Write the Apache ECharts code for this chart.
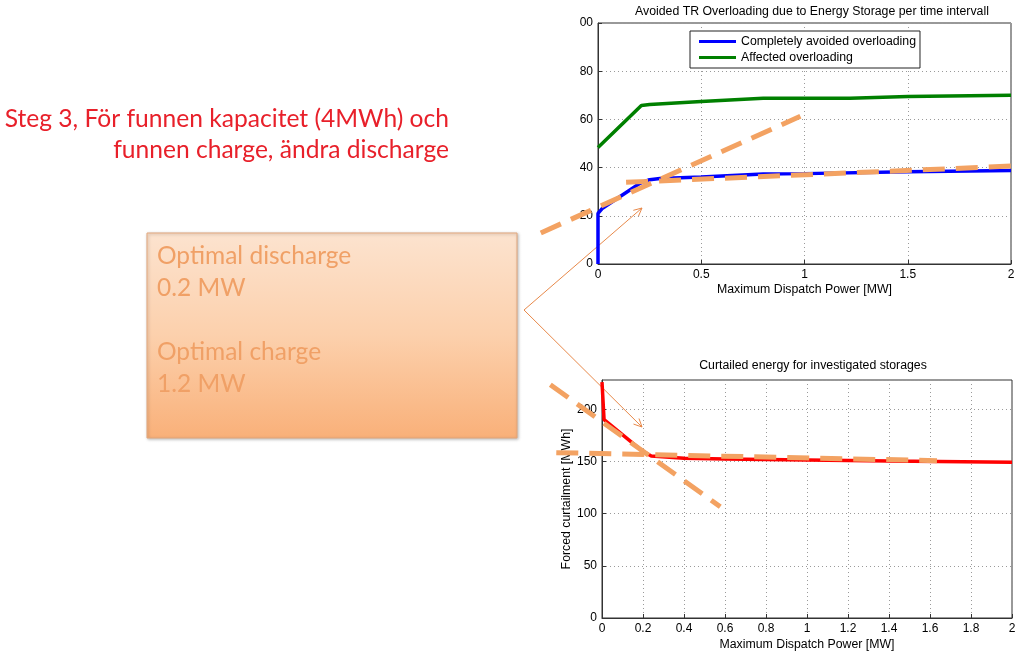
<!DOCTYPE html>
<html>
<head>
<meta charset="utf-8">
<script src="https://cdn.jsdelivr.net/npm/echarts@6/dist/echarts.min.js"></script>
<style>
html,body{margin:0;padding:0;background:#fff;}
#c{width:1024px;height:654px;}
</style>
</head>
<body>
<div id="c"></div>
<script>
// ---- data ----
const topXTicks = [0, 0.5, 1, 1.5, 2];
const topYTicks = [0, 20, 40, 60, 80, 100];
const avoidedName = 'Completely avoided overloading';
const affectedName = 'Affected overloading';
const avoidedPoints = [[0,0],[0,21],[0.02,23],[0.2,33.3],[0.25,35],[0.3,35.5],[0.5,36.1],[0.8,37.3],[1,37.5],[1.5,38.3],[2,38.8]];
const affectedPoints = [[0,48.3],[0.21,65.8],[0.25,66.2],[0.5,67.4],[0.8,68.8],[1.22,68.8],[1.5,69.5],[2,70]];
const topTrend1 = [[-0.277,12.9],[0.98,61.3]];
const topTrend2 = [[0.136,33.9],[2.05,40.8]];

const botXTicks = [0,0.2,0.4,0.6,0.8,1,1.2,1.4,1.6,1.8,2];
const botYTicks = [0,50,100,150,200];
const botYMax = 228;
const curtailedPoints = [[0,226],[0.01,190],[0.19,161],[0.24,155.3],[0.4,153],[0.6,152.2],[1,151.4],[1.4,150.5],[2,149.3]];
const botTrend1 = [[-0.252,223.5],[0.577,106.6]];
const botTrend2 = [[-0.223,158.4],[1.634,150.7]];

const titleLines = ['Steg 3, För funnen kapacitet (4MWh) och', 'funnen charge, ändra discharge'];
const boxLines = ['Optimal discharge', '0.2 MW', '', 'Optimal charge', '1.2 MW'];

// ---- layout ----
const G1 = {left:598, top:23, width:413, height:241};
const G2 = {left:602, top:380, width:410, height:238};
// overlay grids sharing the same scale but wider, so annotation dashes can run past the plot box
const O1L = 530, O1R = 1024, O2L = 540, O2R = 1024;

const chart = echarts.init(document.getElementById('c'));
const FONT = 'Liberation Sans, Arial, sans-serif';
const ORANGE = '#F3A262';

function axisCommon(){
  return {
    axisLine:{show:true,lineStyle:{color:'#333',width:1}},
    axisTick:{show:true,inside:true,length:4,lineStyle:{color:'#333'}},
    axisLabel:{color:'#000',fontSize:12,fontFamily:FONT,margin:5},
    splitLine:{show:true,lineStyle:{color:'#9a9a9a',type:[1,3],width:1}}
  };
}
function arrow(x1,y1,x2,y2){
  const a = Math.atan2(y2-y1,x2-x1), L=9, w=0.45;
  return [
    {type:'line',shape:{x1:x1,y1:y1,x2:x2,y2:y2},style:{stroke:'#E8894A',lineWidth:1}},
    {type:'polyline',shape:{points:[[x2-L*Math.cos(a-w),y2-L*Math.sin(a-w)],[x2,y2],[x2-L*Math.cos(a+w),y2-L*Math.sin(a+w)]]},style:{stroke:'#E8894A',lineWidth:1,fill:null}}
  ];
}

const graphics = [];
const TFONT = '24.6px Lato, "Open Sans", sans-serif';
graphics.push({type:'text',style:{text:titleLines[0],x:449,y:119,align:'right',verticalAlign:'middle',fill:'#E8202A',font:TFONT}});
graphics.push({type:'text',style:{text:titleLines[1],x:449,y:150,align:'right',verticalAlign:'middle',fill:'#E8202A',font:TFONT}});
graphics.push({type:'rect',shape:{x:147,y:233,width:370,height:205},style:{
  fill:new echarts.graphic.LinearGradient(0,0,0,1,[{offset:0,color:'#FCE3CF'},{offset:0.5,color:'#FCD0AC'},{offset:1,color:'#F9B079'}]),
  stroke:'#E3A77C',lineWidth:1,shadowBlur:3,shadowColor:'rgba(0,0,0,0.25)',shadowOffsetX:1,shadowOffsetY:1}});
const boxY = [256, 288, 320, 352, 384];
boxLines.forEach((t,i)=>{ if(t) graphics.push({type:'text',style:{text:t,x:157,y:boxY[i],verticalAlign:'middle',fill:'#F0A066',font:'24.5px Lato, "Open Sans", sans-serif'}}); });
arrow(524,310,642,208).forEach(g=>graphics.push(g));
arrow(524,310,642,427).forEach(g=>graphics.push(g));

function trend(idx,data){
  return {type:'line',xAxisIndex:idx,yAxisIndex:idx,data:data,symbol:'none',clip:false,silent:true,z:5,
    lineStyle:{color:ORANGE,width:5,type:[22,11],cap:'butt'}};
}
function hiddenAxis(gi,min,max){ return {type:'value',gridIndex:gi,min:min,max:max,show:false,splitLine:{show:false}}; }

const x1Min = topXTicks[0], x1Max = topXTicks[topXTicks.length-1];
const px1 = G1.width/(x1Max-x1Min);
const x2Min = botXTicks[0], x2Max = botXTicks[botXTicks.length-1];
const px2 = G2.width/(x2Max-x2Min);

chart.setOption({
  animation:false,
  backgroundColor:'#fff',
  title:[
    {text:'Avoided TR Overloading due to Energy Storage per time intervall',left:807,top:1,textAlign:'center',
      textStyle:{fontSize:12.3,fontWeight:'normal',color:'#000',fontFamily:FONT}},
    {text:'Curtailed energy for investigated storages',left:808,top:355,textAlign:'center',
      textStyle:{fontSize:12.3,fontWeight:'normal',color:'#000',fontFamily:FONT}}
  ],
  legend:{
    data:[avoidedName,affectedName],left:690,top:31,orient:'vertical',icon:'rect',
    backgroundColor:'#fff',borderColor:'#222',borderWidth:1,padding:[4,4,4,9],itemGap:3,
    itemWidth:37,itemHeight:3,textStyle:{fontSize:12.3,color:'#000',fontFamily:FONT,lineHeight:13},
    selectedMode:false
  },
  grid:[
    Object.assign({show:true,borderColor:'#333',borderWidth:1,backgroundColor:'#fff'},G1),
    Object.assign({show:true,borderColor:'#333',borderWidth:1,backgroundColor:'#fff'},G2),
    {left:O1L,top:G1.top,width:O1R-O1L,height:G1.height,show:false},
    {left:O2L,top:G2.top,width:O2R-O2L,height:G2.height,show:false}
  ],
  xAxis:[
    Object.assign(axisCommon(),{type:'value',gridIndex:0,min:x1Min,max:x1Max,interval:0.5,
      name:'Maximum Dispatch Power [MW]',nameLocation:'middle',nameGap:20,nameTextStyle:{fontSize:12.3,color:'#000',fontFamily:FONT}}),
    Object.assign(axisCommon(),{type:'value',gridIndex:1,min:x2Min,max:x2Max,interval:0.2,
      name:'Maximum Dispatch Power [MW]',nameLocation:'middle',nameGap:21,nameTextStyle:{fontSize:12.3,color:'#000',fontFamily:FONT}}),
    hiddenAxis(2, x1Min-(G1.left-O1L)/px1, x1Max+(O1R-G1.left-G1.width)/px1),
    hiddenAxis(3, x2Min-(G2.left-O2L)/px2, x2Max+(O2R-G2.left-G2.width)/px2)
  ],
  yAxis:[
    Object.assign(axisCommon(),{type:'value',gridIndex:0,min:topYTicks[0],max:topYTicks[topYTicks.length-1],interval:20,
      axisLabel:{color:'#000',fontSize:12,fontFamily:FONT,margin:5,formatter:function(v){return v===100?'00':String(v);}}}),
    Object.assign(axisCommon(),{type:'value',gridIndex:1,min:botYTicks[0],max:botYMax,interval:50,
      axisLabel:{color:'#000',fontSize:12,fontFamily:FONT,margin:5,showMaxLabel:false},
      name:'Forced curtailment [MWh]',nameLocation:'middle',nameGap:28,nameTextStyle:{fontSize:12.3,color:'#000',fontFamily:FONT}}),
    hiddenAxis(2, topYTicks[0], topYTicks[topYTicks.length-1]),
    hiddenAxis(3, botYTicks[0], botYMax)
  ],
  series:[
    {name:avoidedName,type:'line',xAxisIndex:0,yAxisIndex:0,data:avoidedPoints,symbol:'none',lineStyle:{color:'#0000FF',width:3.5},itemStyle:{color:'#0000FF'},z:3},
    {name:affectedName,type:'line',xAxisIndex:0,yAxisIndex:0,data:affectedPoints,symbol:'none',lineStyle:{color:'#008000',width:3.5},itemStyle:{color:'#008000'},z:3},
    trend(2,topTrend1),
    trend(2,topTrend2),
    {name:'Curtailed',type:'line',xAxisIndex:1,yAxisIndex:1,data:curtailedPoints,symbol:'none',lineStyle:{color:'#FF0000',width:3.5},z:3},
    trend(3,botTrend1),
    trend(3,botTrend2)
  ],
  graphic:{elements:graphics}
});
</script>
</body>
</html>
